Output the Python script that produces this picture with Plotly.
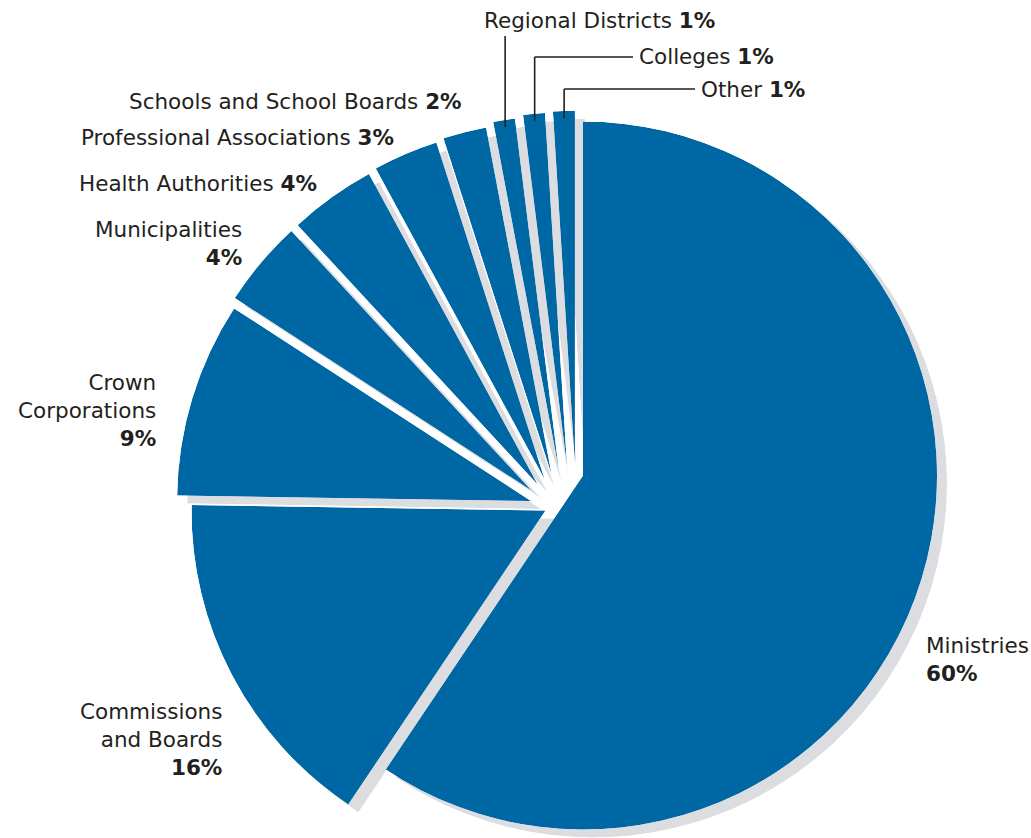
import math
import plotly.graph_objects as go

# ---- data ---------------------------------------------------------------
CATEGORIES = [
    "Ministries", "Commissions and Boards", "Crown Corporations",
    "Municipalities", "Health Authorities", "Professional Associations",
    "Schools and School Boards", "Regional Districts", "Colleges", "Other",
]
VALUES = [60, 16, 9, 4, 4, 3, 2, 1, 1, 1]

# ---- style / layout -----------------------------------------------------
W, H = 1031, 838
BLUE = "#0067a5"
SHADOW = "#dcdde0"
INK = "#231f20"
FONT = "DejaVu Sans"
FONT_SIZE = 21.5

CENTER = (583.0, 475.5)      # apex of the first wedge, px
RADIUS = 354.0               # px
SHADOW_SHIFT = (10.0, 8.0)   # drop shadow offset, px
# each wedge is set off from the previous one: a gap across the shared
# edge and a small slide along it (px)
EDGE_GAP = [11.6, 9.3, 9.0, 8.5, 8.5, 8.0, 8.0, 8.5, 8.0]
EDGE_SLIDE = [50.0, 14.6, 5.0, 0.0, 1.5, 2.0, 4.0, 2.5, 1.0]

# label placement: (x px, y px, anchor, text lines)
LABEL_POS = {
    "Ministries": (924, 659, "left", ["Ministries"]),
    "Commissions and Boards": (224, 739, "right", ["Commissions", "and Boards"]),
    "Crown Corporations": (158, 410, "right", ["Crown", "Corporations"]),
    "Municipalities": (244, 243, "right", ["Municipalities"]),
    "Health Authorities": (319, 183, "right", None),
    "Professional Associations": (396, 138, "right", None),
    "Schools and School Boards": (464, 101, "right", None),
    "Regional Districts": (482, 20, "left", None),
    "Colleges": (637, 56, "left", None),
    "Other": (699, 89, "left", None),
}
# leader lines: category -> (top y px, end x px or None)
LEADERS = {
    "Regional Districts": (36, None),
    "Colleges": (57, 633),
    "Other": (89, 695),
}


def unit(deg):
    """Screen direction for an angle measured clockwise from 12 o'clock."""
    r = math.radians(deg)
    return math.sin(r), -math.cos(r)


total = sum(VALUES)
starts, ends = [], []
acc = 0
for v in VALUES:
    starts.append(acc / total * 360.0)
    acc += v
    ends.append(acc / total * 360.0)
mids = [(a + b) / 2 for a, b in zip(starts, ends)]

# apex of every wedge
apexes = [CENTER]
for i in range(1, len(VALUES)):
    b = starts[i]
    tx, ty = unit(b)
    nx, ny = unit(b + 90)
    px, py = apexes[-1]
    g, s = EDGE_GAP[i - 1], EDGE_SLIDE[i - 1]
    apexes.append((px + g * nx + s * tx, py + g * ny + s * ty))


def sector_bbox(s0, s1):
    angles = [s0, s1]
    k = math.floor(s0 / 90)
    while k * 90 <= s1:
        if k * 90 >= s0:
            angles.append(k * 90)
        k += 1
    xs = [0.0] + [math.cos(math.radians(a)) for a in angles]
    ys = [0.0] + [math.sin(math.radians(a)) for a in angles]
    return min(xs), min(ys), max(xs), max(ys)


def clamp(v):
    return min(1.0, max(0.0, v))


def polar_layout(cx, cy, a_start, a_end):
    s0, s1 = 90.0 - a_end, 90.0 - a_start
    x0, y0, x1, y1 = sector_bbox(s0, s1)
    left, right = cx + RADIUS * x0, cx + RADIUS * x1
    top, bottom = cy - RADIUS * y1, cy - RADIUS * y0
    return dict(
        domain=dict(x=[clamp(left / W), clamp(right / W)],
                    y=[clamp(1 - bottom / H), clamp(1 - top / H)]),
        sector=[s0, s1],
        bgcolor="rgba(0,0,0,0)",
        radialaxis=dict(visible=False, range=[0, 1], showgrid=False,
                        showline=False, showticklabels=False, ticks=""),
        angularaxis=dict(visible=False, rotation=90, direction="clockwise",
                         showgrid=False, showline=False,
                         showticklabels=False, ticks=""),
    )


fig = go.Figure()
polars = {}
n = len(VALUES)
layers = [(SHADOW, SHADOW_SHIFT), (BLUE, (0.0, 0.0))]
k = 0
for color, (dx, dy) in layers:
    for i in range(n):
        k += 1
        name = "polar" if k == 1 else f"polar{k}"
        cx, cy = apexes[i]
        polars[name] = polar_layout(cx + dx, cy + dy, starts[i], ends[i])
        fig.add_trace(go.Barpolar(
            r=[1], theta=[mids[i]], width=[ends[i] - starts[i]],
            subplot=name, name=CATEGORIES[i],
            marker=dict(color=color, line=dict(width=0)),
            hoverinfo="skip", showlegend=False,
        ))

# ---- labels -------------------------------------------------------------
annotations = []
for cat, val in zip(CATEGORIES, VALUES):
    x, y, anchor, lines = LABEL_POS[cat]
    pct = f"<b>{val}%</b>"
    if lines is None:
        text = f"{cat} {pct}"
    else:
        text = "<br>".join(lines + [pct])
    annotations.append(dict(
        x=x / W, y=1 - y / H, xref="paper", yref="paper",
        xanchor=anchor, yanchor="middle", align=anchor,
        text=text, showarrow=False,
        font=dict(family=FONT, size=FONT_SIZE, color=INK),
    ))

shapes = []
for cat, (ytop, xend) in LEADERS.items():
    i = CATEGORIES.index(cat)
    ux, uy = unit(mids[i])
    ax, ay = apexes[i]
    sx, sy = ax + (RADIUS - 7) * ux, ay + (RADIUS - 7) * uy
    line = dict(color=INK, width=1.6)
    shapes.append(dict(type="line", xref="paper", yref="paper",
                       x0=sx / W, y0=1 - sy / H, x1=sx / W, y1=1 - ytop / H,
                       line=line))
    if xend is not None:
        shapes.append(dict(type="line", xref="paper", yref="paper",
                           x0=sx / W, y0=1 - ytop / H, x1=xend / W,
                           y1=1 - ytop / H, line=line))

fig.update_layout(
    width=W, height=H,
    margin=dict(l=0, r=0, t=0, b=0),
    paper_bgcolor="white", plot_bgcolor="white",
    showlegend=False,
    annotations=annotations, shapes=shapes,
    **polars,
)

fig.write_html("out.html")
